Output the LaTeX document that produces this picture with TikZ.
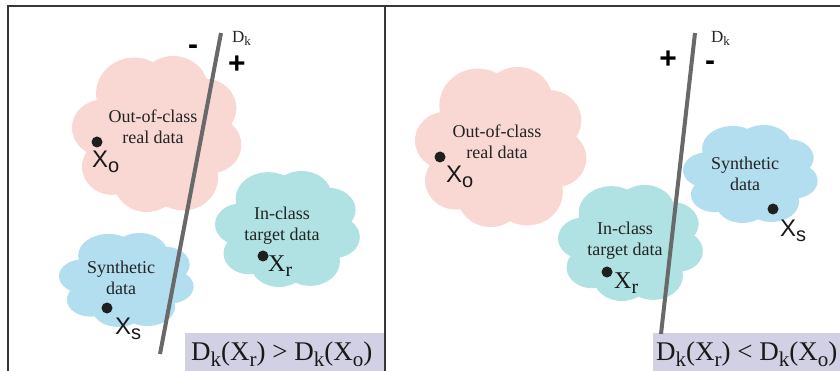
\documentclass[tikz,border=0pt]{standalone}
\usepackage{fontspec}
\setmainfont{Liberation Serif}
\newfontfamily\arialf{Liberation Sans}
\definecolor{pinkc}{RGB}{249,216,212}
\definecolor{tealc}{RGB}{176,226,228}
\definecolor{bluec}{RGB}{178,222,240}
\definecolor{boxc}{RGB}{210,208,228}
\definecolor{linec}{RGB}{105,105,105}
\definecolor{borderc}{RGB}{55,55,55}
\definecolor{textc}{RGB}{35,35,35}
\newcommand{\mysb}[3]{\raisebox{-#1}{\fontsize{#2}{#2}\selectfont #3}}
% cloud: name, cx, cy, half width, half height, colour
\newcommand{\puffcloud}[6]{%
  \coordinate (#1) at (#2,#3);
  \begin{scope}[shift={(#2,#3)}, x=#4pt, y=#5pt]
    \fill[#6] (0,0) ellipse [x radius=0.62, y radius=0.6];
    \fill[#6] (-0.25,0.52) circle [radius=0.46];
    \fill[#6] (0.22,0.58) circle [radius=0.42];
    \fill[#6] (0.6,0.33) circle [radius=0.38];
    \fill[#6] (0.68,-0.14) circle [radius=0.36];
    \fill[#6] (0.34,-0.56) circle [radius=0.42];
    \fill[#6] (-0.1,-0.6) circle [radius=0.4];
    \fill[#6] (-0.52,-0.42) circle [radius=0.36];
    \fill[#6] (-0.64,0.08) circle [radius=0.36];
  \end{scope}}
\tikzset{
  cltext/.style={align=center, text=textc, font=\rmfamily\fontsize{18}{21}\selectfont, inner sep=0pt},
  dotmark/.style={circle, fill=black!88, minimum size=11pt, inner sep=0pt},
  xlabel/.style={anchor=base west, inner sep=0pt, text=black!90},
  sign/.style={anchor=base, font=\arialf\bfseries\fontsize{30}{30}\selectfont, inner sep=0pt},
  dklabel/.style={anchor=base west, inner sep=0pt, text=textc, font=\rmfamily\fontsize{17}{17}\selectfont},
  formula/.style={anchor=base west, inner sep=0pt, text=black!90, font=\rmfamily\fontsize{27}{27}\selectfont},
  sepline/.style={line width=4pt, draw=linec},
  frame/.style={line width=1.4pt, draw=borderc}
}
\begin{document}
\begin{tikzpicture}[x=1pt, y=-1pt]
\useasboundingbox (0,0) rectangle (840,371);
% frame
\draw[frame] (8,372) -- (8,6) -- (841,6);
\draw[frame] (385,6) -- (385,372);
% ---------- left panel ----------
\puffcloud{lpink}{155}{134}{83}{78}{pinkc}
\puffcloud{lteal}{286}{229}{71}{58}{tealc}
\puffcloud{lblue}{125}{280}{66}{47}{bluec}
\fill[boxc] (185,333) rectangle (384.3,375);
\coordinate (la) at (221,33);
\coordinate (lb) at (160,354);
\draw[sepline] (la) -- (lb);
\node[cltext] (lpinkt) at (153,127) {Out-of-class\\real data};
\node[cltext] (ltealt) at (282,226) {In-class\\target data};
\node[cltext] (lbluet) at (121,278) {Synthetic\\data};
\node[dotmark] (lxo) at (97,142) {};
\node[xlabel] (lxol) at (92,168) {\arialf\fontsize{24}{24}\selectfont X\mysb{5pt}{20pt}{o}};
\node[dotmark] (lxr) at (263,256) {};
\node[xlabel] (lxrl) at (268,272) {\rmfamily\fontsize{24}{24}\selectfont X\mysb{5pt}{20pt}{r}};
\node[dotmark] (lxs) at (107,308) {};
\node[xlabel] (lxsl) at (115,334) {\arialf\fontsize{24}{24}\selectfont X\mysb{5pt}{20pt}{s}};
\node[sign] (lminus) at (193,55) {-};
\node[sign] (lplus) at (237,74) {+};
\node[dklabel] (ldk) at (232,43) {D\mysb{3pt}{13pt}{k}};
\node[formula] (lform) at (191,360) {D\mysb{6pt}{21pt}{k}(X\mysb{6pt}{21pt}{r}) > D\mysb{6pt}{21pt}{k}(X\mysb{6pt}{21pt}{o})};
% ---------- right panel ----------
\puffcloud{rpink}{499}{147}{84}{80}{pinkc}
\puffcloud{rteal}{629}{243}{71}{58}{tealc}
\puffcloud{rblue}{749}{174}{66}{49}{bluec}
\fill[boxc] (653,333) rectangle (845,375);
\coordinate (ra) at (695,33);
\coordinate (rb) at (661,334);
\draw[sepline] (ra) -- (rb);
\node[cltext] (rpinkt) at (497,142) {Out-of-class\\real data};
\node[cltext] (rtealt) at (625,241) {In-class\\target data};
\node[cltext] (rbluet) at (745,174) {Synthetic\\data};
\node[dotmark] (rxo) at (440,157) {};
\node[xlabel] (rxol) at (446,183) {\arialf\fontsize{24}{24}\selectfont X\mysb{5pt}{20pt}{o}};
\node[dotmark] (rxr) at (607,272) {};
\node[xlabel] (rxrl) at (614,288) {\rmfamily\fontsize{24}{24}\selectfont X\mysb{5pt}{20pt}{r}};
\node[dotmark] (rxs) at (773,209) {};
\node[xlabel] (rxsl) at (780,237) {\arialf\fontsize{24}{24}\selectfont X\mysb{5pt}{20pt}{s}};
\node[sign] (rplus) at (668,69) {+};
\node[sign] (rminus) at (710,71) {-};
\node[dklabel] (rdk) at (711,43) {D\mysb{3pt}{13pt}{k}};
\node[formula] (rform) at (656,360) {D\mysb{6pt}{21pt}{k}(X\mysb{6pt}{21pt}{r}) < D\mysb{6pt}{21pt}{k}(X\mysb{6pt}{21pt}{o})};
\end{tikzpicture}
\end{document}
